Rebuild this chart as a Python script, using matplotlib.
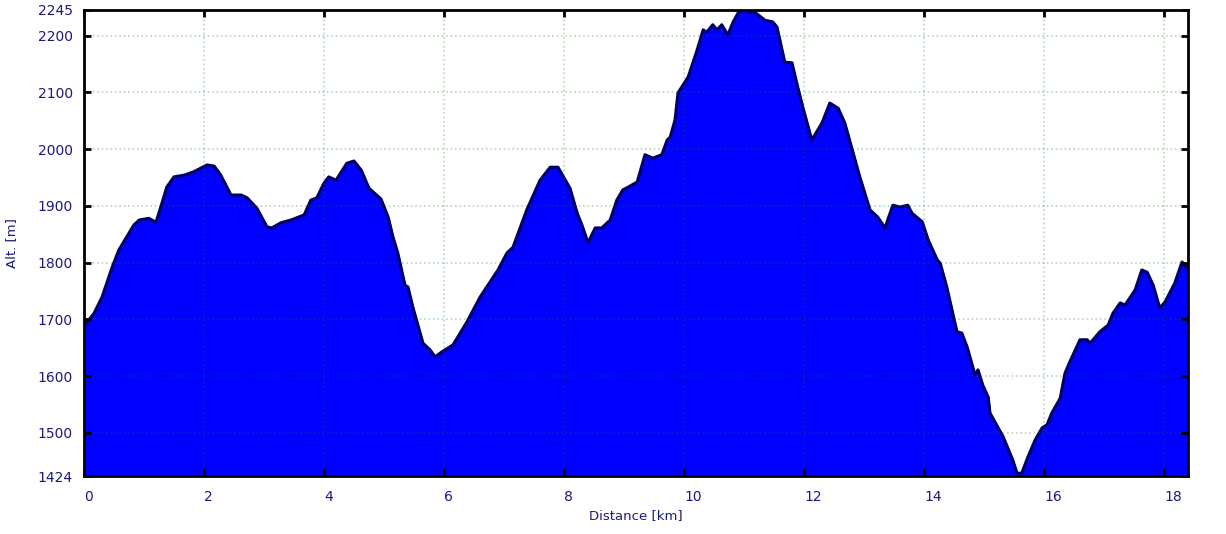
import matplotlib
matplotlib.use("Agg")
import matplotlib.pyplot as plt

# elevation profile (km, m)
distance_km = [0.0, 0.17, 0.30, 0.38, 0.47, 0.58, 0.70, 0.83, 0.92, 1.08, 1.20, 1.28, 1.38, 1.50,
               1.67, 1.83, 2.05, 2.17, 2.28, 2.45, 2.62, 2.72, 2.88, 3.05, 3.13, 3.28, 3.45, 3.67,
               3.78, 3.88, 4.00, 4.08, 4.20, 4.38, 4.50, 4.62, 4.75, 4.95, 5.07, 5.15, 5.23, 5.35,
               5.40, 5.48, 5.65, 5.77, 5.85, 5.97, 6.15, 6.38, 6.60, 6.90, 7.05, 7.15, 7.38, 7.60,
               7.77, 7.90, 8.10, 8.22, 8.30, 8.40, 8.52, 8.63, 8.77, 8.88, 8.98, 9.07, 9.22, 9.35,
               9.48, 9.63, 9.72, 9.77, 9.85, 9.90, 10.07, 10.22, 10.32, 10.38, 10.48, 10.55, 10.63,
               10.73, 10.82, 10.93, 11.18, 11.35, 11.48, 11.55, 11.68, 11.80, 11.88, 11.98, 12.13,
               12.30, 12.43, 12.57, 12.68, 12.82, 12.93, 13.10, 13.23, 13.35, 13.48, 13.60, 13.73,
               13.80, 13.97, 14.07, 14.22, 14.27, 14.38, 14.55, 14.63, 14.72, 14.85, 14.90, 14.98,
               15.07, 15.10, 15.32, 15.48, 15.55, 15.63, 15.73, 15.85, 15.97, 16.05, 16.13, 16.27,
               16.35, 16.43, 16.60, 16.72, 16.77, 16.93, 17.07, 17.15, 17.27, 17.35, 17.52, 17.63,
               17.72, 17.82, 17.93, 18.02, 18.18, 18.30, 18.38]
altitude_m = [1688, 1711, 1739, 1764, 1792, 1822, 1843, 1866, 1875, 1878, 1871, 1898, 1933, 1951,
              1954, 1960, 1972, 1970, 1954, 1919, 1919, 1914, 1896, 1863, 1861, 1870, 1875, 1884,
              1910, 1914, 1940, 1951, 1945, 1975, 1979, 1963, 1931, 1912, 1880, 1845, 1817, 1760,
              1757, 1722, 1658, 1646, 1634, 1643, 1655, 1695, 1739, 1787, 1817, 1827, 1893, 1945,
              1968, 1968, 1931, 1887, 1866, 1835, 1861, 1861, 1875, 1910, 1928, 1933, 1942, 1990,
              1984, 1990, 2016, 2021, 2051, 2099, 2127, 2175, 2210, 2206, 2219, 2210, 2219,
              2201, 2224, 2245, 2241, 2227, 2224, 2215, 2153, 2152, 2116, 2074, 2016,
              2046, 2081, 2072, 2046, 1993, 1951, 1893, 1880, 1861, 1901, 1898, 1901,
              1887, 1872, 1840, 1805, 1799, 1757, 1678, 1676, 1651, 1602, 1611, 1584,
              1563, 1535, 1493, 1452, 1429, 1429, 1457, 1487, 1509, 1514, 1535, 1561,
              1605, 1625, 1664, 1664, 1658, 1678, 1690, 1711, 1729, 1725, 1752, 1787,
              1783, 1760, 1720, 1731, 1764, 1801, 1792]

y_ticks = [1424, 1500, 1600, 1700, 1800, 1900, 2000, 2100, 2200, 2245]
x_ticks = [0, 2, 4, 6, 8, 10, 12, 14, 16, 18]
y_min, y_max = 1424, 2245

text_color = "#1a1a7a"

fig = plt.figure(figsize=(12.26, 5.34), dpi=100)
ax = fig.add_axes([0.0685, 0.1086, 0.9005, 0.8727])

ax.fill_between(distance_km, altitude_m, y_min, color="#0000ff", zorder=1)
ax.plot(distance_km, altitude_m, color="#000066", linewidth=2.2, zorder=2)

ax.set_xlim(0, 18.4)
ax.set_ylim(y_min, y_max)
ax.set_xticks(x_ticks)
ax.set_yticks(y_ticks)

ax.grid(True, linestyle=":", color="#008000", alpha=0.3, linewidth=1.2, zorder=3)
ax.set_axisbelow(False)

ax.tick_params(direction="in", length=5, width=2, top=True, right=True,
               labelcolor=text_color, labelsize=10, color="black")
ax.tick_params(axis="x", pad=10)
ax.tick_params(axis="y", pad=8)
for lbl in ax.get_xticklabels():
    lbl.set_horizontalalignment("left")
for s in ax.spines.values():
    s.set_linewidth(2)
    s.set_zorder(4)

ax.set_xlabel("Distance [km]", color=text_color, fontsize=9.5, labelpad=4)
ax.set_ylabel("Alt. [m]", color=text_color, fontsize=9.5, labelpad=14)

fig.savefig("out.png", dpi=100)
